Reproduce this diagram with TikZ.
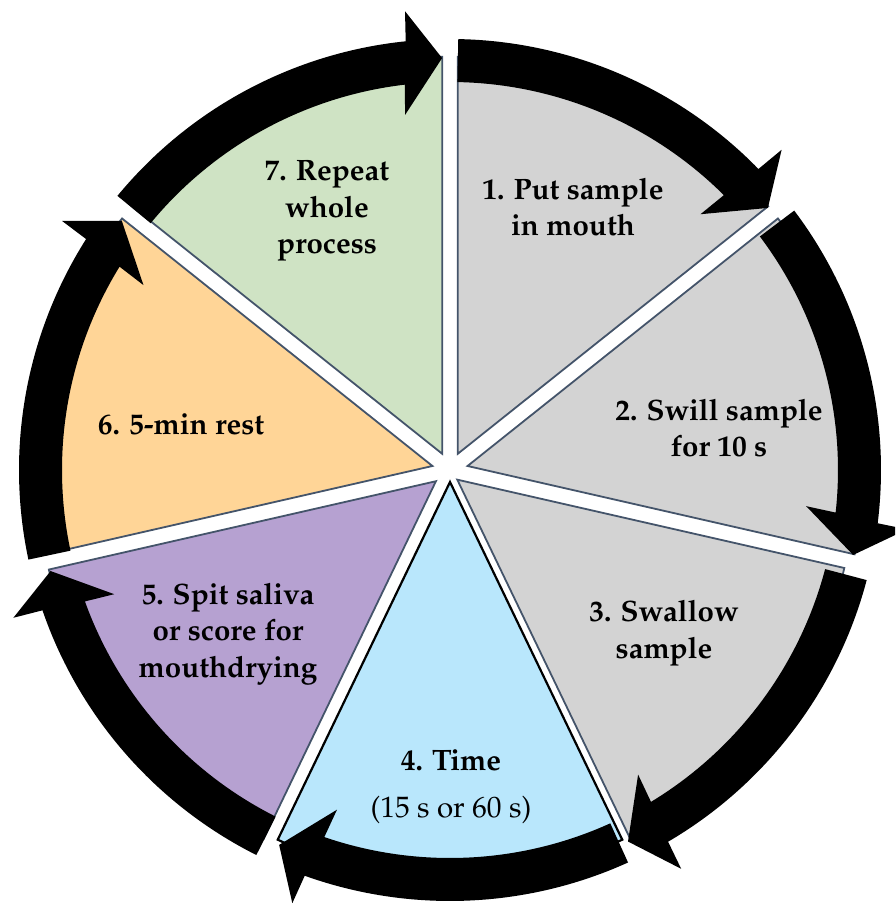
\documentclass[tikz,border=0pt]{standalone}
\usepackage[T1]{fontenc}
\usepackage{mathpazo}
\definecolor{slate}{HTML}{44546A}
\definecolor{sgrey}{HTML}{D3D3D3}
\definecolor{sblue}{HTML}{B9E7FC}
\definecolor{spurple}{HTML}{B6A1D1}
\definecolor{sorange}{HTML}{FFD597}
\definecolor{sgreen}{HTML}{CFE3C4}
\newcommand\cyclearrow[2]{%
  \fill[black] (#1:431) arc[start angle=#1, end angle={#2+4.8}, radius=431]
    -- ({#2+4.5}:461) -- (#2:412) -- ({#2+6.1}:358) -- ({#2+5.6}:388)
    arc[start angle={#2+5.6}, end angle=#1, radius=388] -- cycle;}
\begin{document}
\begin{tikzpicture}[x=1pt,y=1pt,
  slice/.style={draw=slate, line width=1.8pt, line join=miter},
  lbl/.style={align=center, font=\fontsize{29.5}{36.5}\selectfont\bfseries, text=black}]
\useasboundingbox (-450,-434) rectangle (445,470);
\clip (-450,-434) rectangle (445,470);
% slices
\draw[slice, fill=sgrey] (7.81,16.22) -- ++(90:397) arc[start angle=90, end angle=38.571, radius=397] -- cycle;
\draw[slice, fill=sgrey] (17.55,4.0) -- ++(38.571:397) arc[start angle=38.571, end angle=-12.857, radius=397] -- cycle;
\draw[slice, fill=sgrey] (7.27,-9.66) -- ++(-12.857:397) arc[start angle=-12.857, end angle=-64.286, radius=397] -- cycle;
\draw[slice, fill=sblue, draw=black, line width=2.2pt] (0,-12) -- ++(-64.286:397) arc[start angle=-64.286, end angle=-115.714, radius=397] -- cycle;
\draw[slice, fill=spurple] (-14.07,-11.22) -- ++(-115.714:397) arc[start angle=-115.714, end angle=-167.143, radius=397] -- cycle;
\draw[slice, fill=sorange] (-17.55,4.0) -- ++(-167.143:397) arc[start angle=-167.143, end angle=-218.571, radius=397] -- cycle;
\draw[slice, fill=sgreen] (-7.81,16.22) -- ++(141.429:397) arc[start angle=141.429, end angle=90, radius=397] -- cycle;
% arrows
\cyclearrow{88.9}{39.5}
\cyclearrow{37.0}{-11.9}
\cyclearrow{-14.8}{-64.4}
\cyclearrow{-65.6}{-114.5}
\cyclearrow{-116.7}{-165.8}
\cyclearrow{192.0}{142.8}
\cyclearrow{140.5}{91.1}
% labels
\node[lbl] (t1) at (123,263) {1. Put sample\\in mouth};
\node[lbl] (t2) at (269,42) {2. Swill sample\\for 10 s};
\node[lbl] (t3) at (214,-163) {3. Swallow\\sample};
\node[lbl] (t4) at (1,-317) {4. Time\\[10pt]\mdseries (15 s or 60 s)};
\node[lbl] (t5) at (-222,-164) {5. Spit saliva\\or score for\\mouthdrying};
\node[lbl] (t6) at (-269,46) {6. 5-min rest};
\node[lbl] (t7) at (-123,259) {7. Repeat\\whole\\process};
\end{tikzpicture}
\end{document}
